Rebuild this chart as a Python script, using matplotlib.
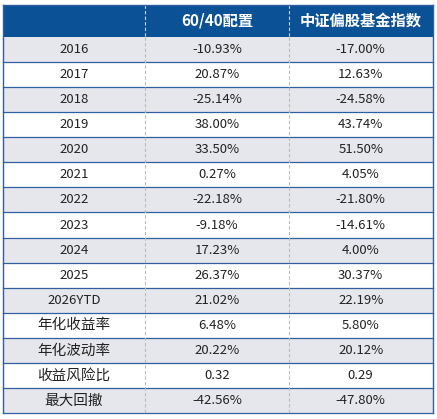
import matplotlib
matplotlib.use("Agg")
import matplotlib.pyplot as plt
from matplotlib.patches import Rectangle

plt.rcParams['font.family'] = ['Noto Sans CJK SC', 'DejaVu Sans']

# Table content
header = ['', '60/40配置', '中证偏股基金指数']
row_labels = ['2016', '2017', '2018', '2019', '2020', '2021', '2022', '2023',
              '2024', '2025', '2026YTD', '年化收益率', '年化波动率', '收益风险比', '最大回撤']
mix_6040 = ['-10.93%', '20.87%', '-25.14%', '38.00%', '33.50%', '0.27%', '-22.18%',
            '-9.18%', '17.23%', '26.37%', '21.02%', '6.48%', '20.22%', '0.32', '-42.56%']
fund_index = ['-17.00%', '12.63%', '-24.58%', '43.74%', '51.50%', '4.05%', '-21.80%',
              '-14.61%', '4.00%', '30.37%', '22.19%', '5.80%', '20.12%', '0.29', '-47.80%']

W, H = 437, 419
fig = plt.figure(figsize=(W / 100, H / 100), dpi=100)
ax = fig.add_axes([0, 0, 1, 1])
ax.set_xlim(0, W)
ax.set_ylim(H, 0)
ax.axis('off')

x_edges = [2.5, 145, 289, 432.5]
top, head_h = 5, 32
row_h = (413 - top - head_h) / len(row_labels)
blue = '#0B5196'
line_blue = '#2F5F9E'
shade = '#E6E7EC'

# header
ax.add_patch(Rectangle((x_edges[0], top), x_edges[-1] - x_edges[0], head_h, color=blue, lw=0))
for i, t in enumerate(header):
    cx = (x_edges[i] + x_edges[i + 1]) / 2
    ax.text(cx, top + head_h / 2, t, color='white', fontsize=11, fontweight='bold',
            ha='center', va='center')

# body
for r, lab in enumerate(row_labels):
    y0 = top + head_h + r * row_h
    if r % 2 == 0:
        ax.add_patch(Rectangle((x_edges[0], y0), x_edges[-1] - x_edges[0], row_h, color=shade, lw=0))
    cy = y0 + row_h / 2
    for i, t in enumerate([lab, mix_6040[r], fund_index[r]]):
        cx = (x_edges[i] + x_edges[i + 1]) / 2
        fs = 10.5 if any(ord(c) > 0x4e00 for c in t) else 9.5
        ax.text(cx, cy, t, fontsize=fs, ha='center', va='center', color='#222222')
    ax.plot([x_edges[0], x_edges[-1]], [y0 + row_h, y0 + row_h], color=line_blue, lw=0.9)

bottom = top + head_h + len(row_labels) * row_h
# vertical dashed dividers
for x in x_edges[1:-1]:
    ax.plot([x, x], [top, top + head_h], color='#C8D3E3', lw=0.8, ls=(0, (3, 2)))
    ax.plot([x, x], [top + head_h, bottom], color='#BBBBBB', lw=0.8, ls=(0, (3, 2)))
# outer border
ax.plot([x_edges[0], x_edges[0]], [top, bottom], color=line_blue, lw=1)
ax.plot([x_edges[-1], x_edges[-1]], [top, bottom], color=line_blue, lw=1)
ax.plot([x_edges[0], x_edges[-1]], [top, top], color=line_blue, lw=1)

fig.savefig('out.png', dpi=100)
